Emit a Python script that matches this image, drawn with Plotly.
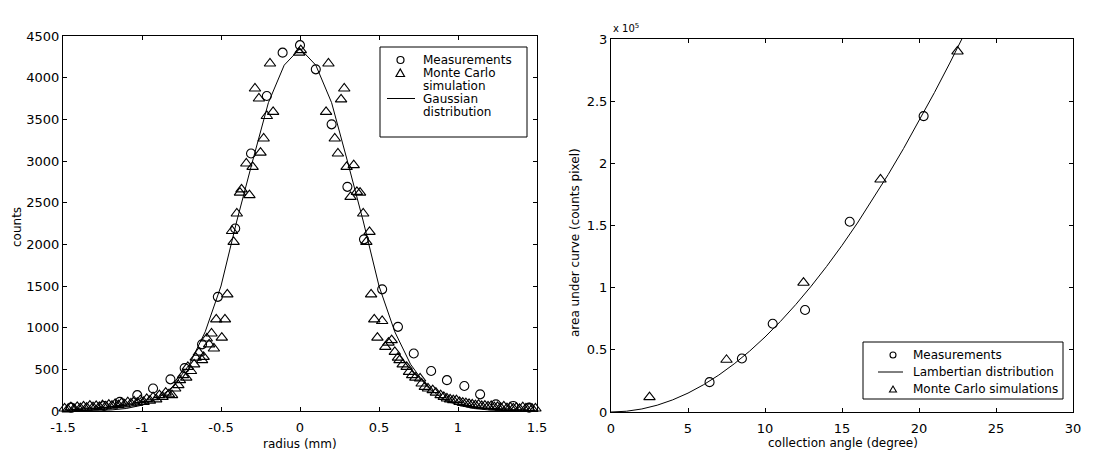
import plotly.graph_objects as go

# ---------------- left panel: radial profile ----------------
meas_radius = [-1.45, -1.35, -1.24, -1.14, -1.03, -0.93, -0.82, -0.73, -0.62, -0.52,
               -0.41, -0.31, -0.21, -0.11, 0.0, 0.10, 0.20, 0.30, 0.405, 0.52,
               0.62, 0.72, 0.83, 0.93, 1.04, 1.14, 1.24, 1.35, 1.45]
meas_counts = [40, -10, 60, 110, 190, 270, 380, 515, 800, 1370,
               2190, 3090, 3780, 4300, 4390, 4100, 3440, 2690, 2060, 1460,
               1010, 690, 480, 370, 300, 200, 80, 60, 40]

mc_radius = [-1.49, -1.47, -1.45, -1.43, -1.41, -1.39, -1.37, -1.35, -1.33, -1.31,
             -1.29, -1.27, -1.25, -1.23, -1.21, -1.19, -1.17, -1.15, -1.13, -1.11,
             -1.09, -1.07, -1.05, -1.03, -1.01, -0.99, -0.97, -0.95, -0.93, -0.91,
             -0.89, -0.87, -0.85, -0.83, -0.81, -0.79, -0.77, -0.76, -0.74, -0.72,
             -0.71, -0.69, -0.67, -0.66, -0.64, -0.62, -0.61, -0.59, -0.575, -0.56,
             -0.545, -0.53, -0.495, -0.475, -0.46, -0.43, -0.42, -0.40, -0.38, -0.37,
             -0.34, -0.32, -0.30, -0.285, -0.26, -0.25, -0.23, -0.21, -0.19, -0.17,
             -0.005, 0.005,
             0.165, 0.18, 0.22, 0.24, 0.26, 0.28, 0.295, 0.32, 0.34, 0.36,
             0.38, 0.40, 0.42, 0.44, 0.45, 0.47, 0.49, 0.52, 0.54, 0.56,
             0.58, 0.60, 0.62, 0.63, 0.65, 0.675, 0.69, 0.71, 0.73, 0.76,
             0.77, 0.79, 0.81, 0.84, 0.86, 0.89, 0.91, 0.93, 0.95, 0.97,
             0.99, 1.01, 1.03, 1.05, 1.07, 1.09, 1.11, 1.13, 1.15, 1.17,
             1.19, 1.21, 1.23, 1.25, 1.27, 1.29, 1.31, 1.33, 1.35, 1.37,
             1.39, 1.41, 1.43, 1.45, 1.47, 1.49]
mc_counts = [30, 20, 45, 25, 50, 35, 55, 40, 65, 45,
             60, 50, 70, 55, 75, 65, 85, 70, 95, 80,
             105, 90, 115, 100, 130, 110, 145, 125, 165, 140,
             190, 170, 220, 200, 190, 270, 310, 370, 430, 400,
             530, 480, 560, 640, 700, 610, 650, 870, 800, 930,
             750, 1100, 880, 1100, 1400, 2160, 2030, 2370, 2620, 2660,
             2970, 2590, 2930, 3870, 3750, 3100, 3270, 3540, 4170, 3590,
             4300, 4330,
             3590, 4170, 3270, 3090, 3740, 3870, 2930, 2570, 2950, 2630,
             2620, 2370, 2030, 2150, 1400, 1100, 880, 1080, 770, 820,
             850, 710, 640, 610, 560, 530, 470, 430, 400, 390,
             330, 290, 270, 250, 220, 190, 170, 150, 140, 130,
             130, 110, 100, 95, 85, 80, 70, 75, 60, 65,
             55, 60, 45, 50, 40, 55, 35, 45, 30, 40,
             25, 45, 30, 35, 25, 30]

gauss_radius = [-1.5, -1.4, -1.3, -1.2, -1.1, -1.0, -0.9, -0.8, -0.7, -0.6,
                -0.5, -0.4, -0.3, -0.2, -0.1, 0.0, 0.1, 0.2, 0.3, 0.4,
                0.5, 0.6, 0.7, 0.8, 0.9, 1.0, 1.1, 1.2, 1.3, 1.4, 1.5]
gauss_counts = [1, 2, 5, 12, 30, 70, 150, 300, 560, 950,
                1500, 2280, 3000, 3700, 4150, 4350, 4150, 3700, 3000, 2280,
                1500, 950, 560, 300, 150, 70, 30, 12, 5, 2, 1]

radius_ticks = [-1.5, -1.0, -0.5, 0.0, 0.5, 1.0, 1.5]
radius_tick_text = ["-1.5", "-1", "-0.5", "0", "0.5", "1", "1.5"]
counts_ticks = [0, 500, 1000, 1500, 2000, 2500, 3000, 3500, 4000, 4500]

# ---------------- right panel: collection angle ----------------
angle_meas = [6.4, 8.5, 10.5, 12.6, 15.5, 20.3]
area_meas = [24000, 43000, 71000, 82000, 153000, 238000]

angle_mc = [2.5, 7.5, 12.5, 17.5, 22.5]
area_mc = [12000, 42000, 104000, 187000, 290000]

lamb_angle = [0, 1, 2, 3, 4, 5, 6, 7, 8, 9, 10, 11, 12,
              13, 14, 15, 16, 17, 18, 19, 20, 21, 22, 23]
lamb_area = [0, 610, 2430, 5480, 9730, 15190, 21860, 29700, 38740, 48940,
             60300, 72820, 86460, 101200, 117060, 133980, 151960, 170960,
             190980, 211980, 233960, 256860, 280660, 305340]

angle_ticks = [0, 5, 10, 15, 20, 25, 30]
area_ticks = [0, 50000, 100000, 150000, 200000, 250000, 300000]
area_tick_text = ["0", "0.5", "1", "1.5", "2", "2.5", "3"]

W, H = 1096, 451
FONT = "DejaVu Sans"


def px(x):
    return x / W


def py(y):
    return 1 - y / H


fig = go.Figure()

circle_marker = dict(symbol="circle-open", size=9, color="black", line=dict(width=1.1))
tri_marker = dict(symbol="triangle-up-open", size=10, color="black", line=dict(width=1.1))

fig.add_trace(go.Scatter(x=meas_radius, y=meas_counts, mode="markers", marker=circle_marker,
                         cliponaxis=False, xaxis="x", yaxis="y", showlegend=False))
fig.add_trace(go.Scatter(x=mc_radius, y=mc_counts, mode="markers", marker=tri_marker,
                         cliponaxis=False, xaxis="x", yaxis="y", showlegend=False))
fig.add_trace(go.Scatter(x=gauss_radius, y=gauss_counts, mode="lines",
                         line=dict(color="black", width=1), xaxis="x", yaxis="y", showlegend=False))

fig.add_trace(go.Scatter(x=angle_meas, y=area_meas, mode="markers", marker=circle_marker,
                         cliponaxis=False, xaxis="x2", yaxis="y2", showlegend=False))
fig.add_trace(go.Scatter(x=lamb_angle, y=lamb_area, mode="lines",
                         line=dict(color="black", width=1), xaxis="x2", yaxis="y2", showlegend=False))
fig.add_trace(go.Scatter(x=angle_mc, y=area_mc, mode="markers", marker=tri_marker,
                         cliponaxis=True, xaxis="x2", yaxis="y2", showlegend=False))

axis_style = dict(showline=True, linecolor="black", linewidth=1, mirror="ticks",
                  ticks="inside", ticklen=4, tickcolor="black", tickwidth=1,
                  showgrid=False, zeroline=False, automargin=False,
                  tickfont=dict(family=FONT, size=13, color="black"))

fig.update_layout(
    width=W, height=H,
    margin=dict(l=0, r=0, t=0, b=0),
    paper_bgcolor="white", plot_bgcolor="white",
    showlegend=False,
    xaxis=dict(domain=[px(63), px(537)], range=[-1.5, 1.5], tickvals=radius_ticks,
               ticktext=radius_tick_text, anchor="y", ticklabelstandoff=4, **axis_style),
    yaxis=dict(domain=[py(411), py(36)], range=[0, 4500], tickvals=counts_ticks,
               anchor="x", **axis_style),
    xaxis2=dict(domain=[px(611), px(1073)], range=[0, 30], tickvals=angle_ticks,
                anchor="y2", ticklabelstandoff=4, **axis_style),
    yaxis2=dict(domain=[py(412), py(39)], range=[0, 300000], tickvals=area_ticks,
                ticktext=area_tick_text, anchor="x2", **axis_style),
)

annotations = []


def label(text, x, y, size=12, angle=0, xanchor="center"):
    annotations.append(dict(text=text, x=px(x), y=py(y), xref="paper", yref="paper",
                            showarrow=False, textangle=angle, xanchor=xanchor, yanchor="middle",
                            font=dict(family=FONT, size=size, color="black")))


# axis titles
label("counts", 17, 227, angle=-90)
label("radius (mm)", 300, 444)
label("area under curve (counts pixel)", 575, 243, angle=-90)
label("collection angle (degree)", 843, 443)
label("x 10<sup>5</sup>", 611, 28, size=10, xanchor="left")

shapes = []

# legend of the left panel
shapes.append(dict(type="rect", xref="paper", yref="paper", x0=px(380), x1=px(527),
                   y0=py(137), y1=py(47), line=dict(color="black", width=1), fillcolor="white",
                   layer="above"))
for txt, yy in [("Measurements", 60), ("Monte Carlo", 73), ("simulation", 86),
                ("Gaussian", 99), ("distribution", 112)]:
    label(txt, 421, yy, xanchor="left")
shapes.append(dict(type="circle", xref="paper", yref="paper", x0=px(397), x1=px(404),
                   y0=py(63.5), y1=py(56.5), line=dict(color="black", width=1.2)))
shapes.append(dict(type="path", xref="paper", yref="paper",
                   path=f"M {px(396)} {py(76.5)} L {px(404.5)} {py(76.5)} L {px(400.25)} {py(69)} Z",
                   line=dict(color="black", width=1.2)))
shapes.append(dict(type="line", xref="paper", yref="paper", x0=px(387), x1=px(415),
                   y0=py(98.5), y1=py(98.5), line=dict(color="black", width=1)))

# legend of the right panel
shapes.append(dict(type="rect", xref="paper", yref="paper", x0=px(863), x1=px(1063),
                   y0=py(399), y1=py(342), line=dict(color="black", width=1), fillcolor="white",
                   layer="above"))
for txt, yy in [("Measurements", 355), ("Lambertian distribution", 372),
                ("Monte Carlo simulations", 389)]:
    label(txt, 911, yy, xanchor="left")
shapes.append(dict(type="circle", xref="paper", yref="paper", x0=px(890), x1=px(896),
                   y0=py(358), y1=py(352), line=dict(color="black", width=1.1)))
shapes.append(dict(type="line", xref="paper", yref="paper", x0=px(878), x1=px(903),
                   y0=py(372), y1=py(372), line=dict(color="black", width=1)))
shapes.append(dict(type="path", xref="paper", yref="paper",
                   path=f"M {px(889.5)} {py(392)} L {px(896.5)} {py(392)} L {px(893)} {py(386)} Z",
                   line=dict(color="black", width=1.1)))

fig.update_layout(annotations=annotations, shapes=shapes)

fig.write_html("out.html")
